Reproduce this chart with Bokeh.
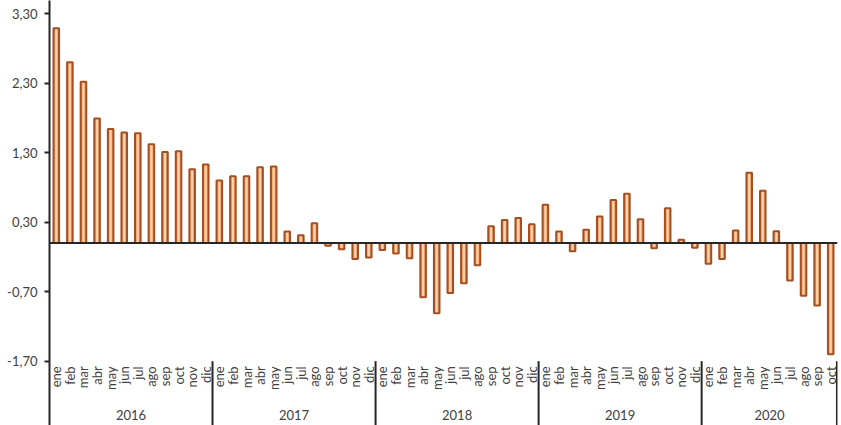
import math
from bokeh.plotting import figure
from bokeh.models import (FactorRange, Range1d, FixedTicker, CustomJSTickFormatter,
                          Span, ColumnDataSource)
from bokeh.core.properties import value
from bokeh.embed import file_html
from bokeh.resources import INLINE

years = ["2016", "2017", "2018", "2019", "2020"]
months = ["ene", "feb", "mar", "abr", "may", "jun", "jul", "ago", "sep", "oct", "nov", "dic"]
v2016 = [3.09, 2.60, 2.32, 1.79, 1.64, 1.59, 1.58, 1.42, 1.31, 1.32, 1.06, 1.13]
v2017 = [0.90, 0.96, 0.96, 1.09, 1.10, 0.165, 0.11, 0.285, -0.04, -0.09, -0.23, -0.21]
v2018 = [-0.10, -0.15, -0.22, -0.78, -1.01, -0.72, -0.58, -0.32, 0.24, 0.33, 0.36, 0.27]
v2019 = [0.55, 0.165, -0.12, 0.19, 0.38, 0.62, 0.71, 0.34, -0.075, 0.50, 0.046, -0.07]
v2020 = [-0.30, -0.23, 0.18, 1.01, 0.75, 0.17, -0.54, -0.76, -0.90, -1.60]
y_ticks = [-1.7, -0.7, 0.3, 1.3, 2.3, 3.3]

series = [v2016, v2017, v2018, v2019, v2020]
factors = []
vals = []
for yr, vs in zip(years, series):
    for m, v in zip(months, vs):
        factors.append((yr, m))
        vals.append(v)

src = ColumnDataSource(dict(x=factors, top=vals, month=[f[1] for f in factors]))

TXT = "#404040"
FONT = value("Lato")

p = figure(x_range=FactorRange(*factors, factor_padding=0, group_padding=0, range_padding=0),
           y_range=Range1d(-2.626, 3.489),
           width=841, height=425, output_backend="svg", toolbar_location=None,
           x_axis_location=None,
           min_border_left=49, min_border_right=4, min_border_top=0, min_border_bottom=0)
p.outline_line_color = None
p.xgrid.visible = False
p.ygrid.visible = False

# bars: base fill, highlight, outline
p.vbar(x="x", top="top", bottom=0, width=0.41, source=src,
       fill_color="#EF9E66", line_color=None)
p.vbar(x="x", top="top", bottom=0, width=0.15, source=src,
       fill_color="#FCD3AC", line_color=None)
p.vbar(x="x", top="top", bottom=0, width=0.41, source=src,
       fill_color=None, line_color="#A44E22", line_width=2)

p.add_layout(Span(location=0, dimension="width", line_color="#262626", line_width=2))

# month labels
p.text(x="x", y=-1.775, text="month", source=src, angle=math.pi / 2,
       text_align="right", text_baseline="middle", text_font=FONT,
       text_font_size="13px", text_color=TXT)

# year labels
p.text(x=years, y=[-2.482] * len(years), text=years, text_align="center",
       text_baseline="middle", text_font=FONT, text_font_size="13px", text_color=TXT)

# group separators
sep_x = [("2016", "dic", 0.5), ("2017", "dic", 0.5), ("2018", "dic", 0.5),
         ("2019", "dic", 0.5), ("2020", "oct", 0.46)]
p.segment(x0=sep_x, x1=sep_x, y0=[-1.70] * len(sep_x), y1=[-2.7] * len(sep_x),
          line_color="#262626", line_width=2)

ax = p.yaxis[0]
ax.ticker = FixedTicker(ticks=y_ticks)
ax.formatter = CustomJSTickFormatter(code="return tick.toFixed(2).replace('.', ',');")
ax.axis_line_color = "#262626"
ax.axis_line_width = 2
ax.major_tick_line_color = "#262626"
ax.major_tick_line_width = 2
ax.major_tick_out = 5
ax.major_tick_in = 0
ax.minor_tick_line_color = None
ax.major_label_text_font = "Lato"
ax.major_label_text_font_size = "13px"
ax.major_label_text_color = TXT
ax.major_label_standoff = 7

open("out.html", "w").write(file_html(p, INLINE))
